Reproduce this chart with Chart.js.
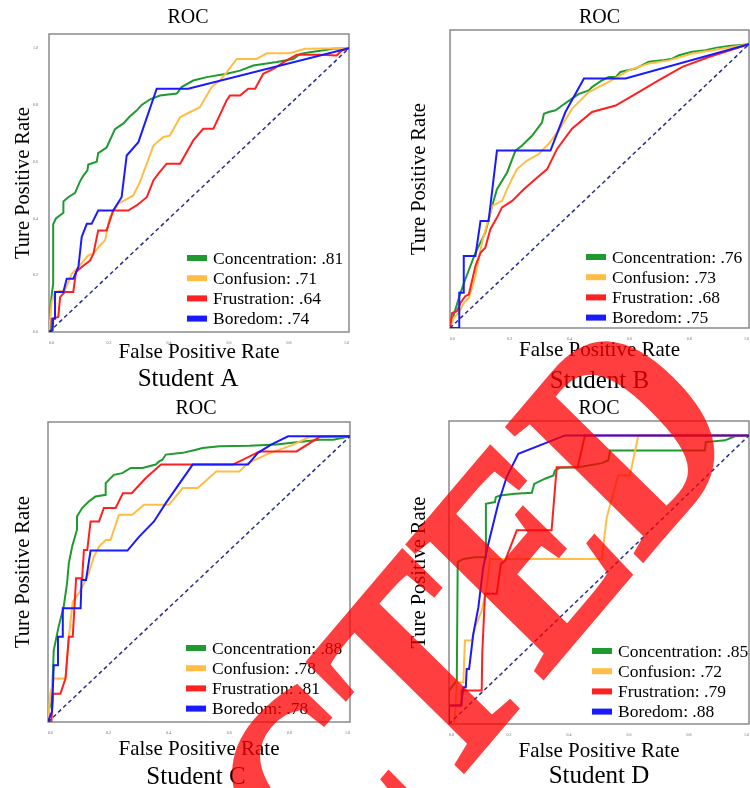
<!DOCTYPE html>
<html>
<head>
<meta charset="utf-8">
<title>ROC - Students A-D</title>
<script src="https://cdn.jsdelivr.net/npm/chart.js@4.4.0/dist/chart.umd.min.js"></script>
<style>
  html, body { margin: 0; padding: 0; background: #fff; overflow: hidden; }
  #wrap { position: relative; width: 750px; height: 788px; }
  #wrap canvas { position: absolute; }
  #stamp { left: 0; top: 0; pointer-events: none; opacity: 0.75; }
</style>
</head>
<body>
<div id="wrap">
  <canvas id="chartA" width="375" height="394" style="left:0;top:0"></canvas>
  <canvas id="chartB" width="375" height="394" style="left:375px;top:0"></canvas>
  <canvas id="chartC" width="375" height="394" style="left:0;top:394px"></canvas>
  <canvas id="chartD" width="375" height="394" style="left:375px;top:394px"></canvas>
  <canvas id="stamp" width="750" height="788"></canvas>
</div>
<script>
// Datos: categorías, AUC por estudiante y curvas ROC
const CATEGORIES = ['Concentration', 'Confusion', 'Frustration', 'Boredom'];
const COLORS = ['#1f9a2e', '#ffbd45', '#ff2020', '#1a1aff'];
const TICK_VALUES = [0, 0.2, 0.4, 0.6, 0.8, 1.0];
const CHANCE = [[0, 0], [1, 1]];

const AUC_A = ['.81', '.71', '.64', '.74'];
const AUC_B = ['.76', '.73', '.68', '.75'];
const AUC_C = ['.88', '.78', '.81', '.78'];
const AUC_D = ['.85', '.72', '.79', '.88'];

// Student A
const A_CONC = [[0,0],[0.003,0.04],[0.005,0.09],[0.01,0.14],[0.014,0.17],[0.014,0.38],[0.023,0.40],[0.048,0.42],[0.048,0.46],[0.064,0.475],[0.087,0.49],[0.103,0.53],[0.114,0.55],[0.128,0.57],[0.131,0.59],[0.159,0.60],[0.164,0.63],[0.192,0.65],[0.22,0.715],[0.248,0.735],[0.27,0.76],[0.292,0.78],[0.309,0.80],[0.337,0.82],[0.37,0.833],[0.426,0.84],[0.442,0.863],[0.481,0.886],[0.526,0.898],[0.592,0.91],[0.637,0.921],[0.681,0.939],[0.759,0.951],[0.814,0.962],[0.837,0.98],[0.87,0.986],[0.948,0.998],[1,1]];
const A_CONF = [[0,0],[0.009,0.106],[0.02,0.141],[0.053,0.147],[0.076,0.205],[0.098,0.229],[0.131,0.27],[0.148,0.276],[0.17,0.305],[0.187,0.323],[0.203,0.405],[0.231,0.452],[0.281,0.481],[0.303,0.528],[0.326,0.593],[0.348,0.657],[0.381,0.687],[0.403,0.692],[0.437,0.757],[0.459,0.769],[0.503,0.792],[0.542,0.863],[0.57,0.886],[0.592,0.915],[0.626,0.962],[0.692,0.962],[0.726,0.982],[0.803,0.982],[0.853,0.998],[1,1]];
const A_FRUS = [[0,0],[0.009,0.006],[0.009,0.047],[0.031,0.053],[0.037,0.123],[0.042,0.129],[0.053,0.141],[0.081,0.141],[0.09,0.211],[0.109,0.229],[0.137,0.252],[0.148,0.276],[0.164,0.358],[0.192,0.358],[0.214,0.428],[0.264,0.428],[0.292,0.446],[0.326,0.475],[0.348,0.534],[0.364,0.557],[0.392,0.593],[0.437,0.593],[0.481,0.675],[0.514,0.716],[0.548,0.716],[0.592,0.816],[0.603,0.833],[0.637,0.833],[0.664,0.857],[0.687,0.857],[0.714,0.91],[0.748,0.927],[0.792,0.957],[0.826,0.977],[0.903,0.977],[0.959,0.974],[0.976,0.992],[1,1]];
const A_BORE = [[0,0],[0.012,0.006],[0.014,0.047],[0.02,0.047],[0.02,0.141],[0.048,0.141],[0.059,0.188],[0.081,0.188],[0.098,0.229],[0.109,0.335],[0.126,0.381],[0.142,0.381],[0.164,0.428],[0.214,0.428],[0.242,0.475],[0.259,0.622],[0.298,0.669],[0.359,0.857],[0.464,0.857],[1,1]];

// Student B
const B_CONC = [[0,0],[0.018,0.065],[0.035,0.124],[0.051,0.171],[0.085,0.265],[0.118,0.336],[0.141,0.43],[0.157,0.489],[0.191,0.548],[0.219,0.625],[0.241,0.643],[0.275,0.678],[0.308,0.725],[0.314,0.755],[0.33,0.761],[0.353,0.767],[0.375,0.784],[0.408,0.808],[0.431,0.825],[0.464,0.837],[0.475,0.849],[0.509,0.873],[0.531,0.884],[0.554,0.884],[0.57,0.902],[0.621,0.914],[0.643,0.926],[0.665,0.938],[0.71,0.943],[0.743,0.949],[0.766,0.961],[0.81,0.973],[0.855,0.979],[0.888,0.987],[0.933,0.994],[1,1]];
const B_CONF = [[0,0],[0.012,0.035],[0.029,0.053],[0.046,0.088],[0.063,0.106],[0.085,0.183],[0.107,0.301],[0.141,0.43],[0.174,0.448],[0.196,0.501],[0.224,0.56],[0.258,0.59],[0.297,0.613],[0.33,0.649],[0.364,0.696],[0.408,0.772],[0.464,0.831],[0.531,0.867],[0.598,0.908],[0.665,0.932],[0.732,0.943],[0.81,0.967],[1,1]];
const B_FRUS = [[0,0],[0.007,0.053],[0.023,0.059],[0.035,0.088],[0.051,0.112],[0.063,0.118],[0.085,0.218],[0.102,0.265],[0.118,0.283],[0.135,0.348],[0.157,0.389],[0.174,0.425],[0.208,0.448],[0.247,0.489],[0.286,0.525],[0.325,0.56],[0.358,0.631],[0.408,0.702],[0.475,0.761],[0.554,0.784],[0.621,0.825],[0.699,0.873],[0.777,0.92],[0.866,0.955],[1,1]];
const B_BORE = [[0,0],[0.031,0],[0.031,0.124],[0.046,0.124],[0.046,0.254],[0.085,0.254],[0.102,0.377],[0.129,0.377],[0.157,0.625],[0.336,0.625],[0.386,0.761],[0.448,0.879],[0.587,0.879],[1,1]];

// Student C
const C_CONC = [[0,0],[0.004,0.047],[0.013,0.076],[0.019,0.251],[0.035,0.333],[0.052,0.404],[0.063,0.485],[0.069,0.556],[0.08,0.614],[0.096,0.673],[0.096,0.719],[0.113,0.749],[0.135,0.772],[0.157,0.789],[0.191,0.795],[0.191,0.836],[0.218,0.865],[0.246,0.871],[0.274,0.889],[0.313,0.889],[0.357,0.901],[0.368,0.912],[0.379,0.918],[0.39,0.936],[0.446,0.942],[0.49,0.953],[0.512,0.959],[0.568,0.965],[0.667,0.967],[0.756,0.971],[0.845,0.982],[0.9,0.988],[0.945,0.988],[1,1]];
const C_CONF = [[0,0],[0.008,0.099],[0.019,0.152],[0.058,0.152],[0.069,0.298],[0.082,0.421],[0.102,0.45],[0.119,0.485],[0.135,0.52],[0.152,0.579],[0.169,0.614],[0.191,0.637],[0.207,0.637],[0.235,0.725],[0.279,0.725],[0.318,0.76],[0.401,0.76],[0.446,0.819],[0.496,0.819],[0.557,0.877],[0.634,0.877],[0.662,0.906],[0.723,0.936],[0.812,0.971],[0.867,0.998],[1,1]];
const C_FRUS = [[0,0],[0.011,0],[0.017,0.099],[0.041,0.099],[0.058,0.152],[0.069,0.298],[0.082,0.298],[0.093,0.503],[0.113,0.503],[0.119,0.602],[0.13,0.602],[0.141,0.702],[0.169,0.702],[0.185,0.749],[0.224,0.749],[0.248,0.801],[0.277,0.801],[0.324,0.854],[0.374,0.901],[0.612,0.901],[0.634,0.912],[0.701,0.947],[0.823,0.947],[0.9,0.998],[1,1]];
const C_BORE = [[0,0],[0.008,0.023],[0.013,0.035],[0.019,0.199],[0.03,0.199],[0.033,0.298],[0.047,0.298],[0.049,0.398],[0.108,0.398],[0.111,0.497],[0.126,0.497],[0.141,0.6],[0.263,0.6],[0.302,0.649],[0.351,0.702],[0.39,0.766],[0.479,0.901],[0.662,0.901],[0.695,0.942],[0.739,0.971],[0.795,1],[1,1]];

// Student D
const D_CONC = [[0,0],[0,0.116],[0.026,0.15],[0.029,0.561],[0.048,0.572],[0.087,0.578],[0.12,0.578],[0.123,0.763],[0.153,0.769],[0.156,0.786],[0.17,0.792],[0.22,0.798],[0.276,0.801],[0.284,0.832],[0.32,0.85],[0.348,0.861],[0.353,0.879],[0.37,0.888],[0.431,0.89],[0.464,0.896],[0.509,0.904],[0.531,0.913],[0.537,0.948],[0.853,0.948],[0.856,0.977],[0.92,0.983],[0.953,0.997],[1,1]];
const D_CONF = [[0,0],[0.014,0],[0.02,0.029],[0.026,0.145],[0.048,0.145],[0.053,0.289],[0.076,0.289],[0.087,0.335],[0.109,0.393],[0.126,0.474],[0.137,0.572],[0.176,0.572],[0.509,0.572],[0.526,0.717],[0.564,0.861],[0.603,0.861],[0.631,1],[1,1]];
const D_FRUS = [[0,0],[0,0.064],[0.042,0.064],[0.042,0.116],[0.109,0.116],[0.111,0.249],[0.12,0.451],[0.159,0.451],[0.173,0.555],[0.187,0.566],[0.2,0.601],[0.226,0.671],[0.342,0.671],[0.359,0.89],[0.429,0.89],[0.453,1],[1,1]];
const D_BORE = [[0,0],[0,0.064],[0.04,0.064],[0.048,0.127],[0.056,0.127],[0.059,0.191],[0.067,0.191],[0.081,0.312],[0.098,0.405],[0.114,0.543],[0.131,0.624],[0.164,0.763],[0.192,0.855],[0.231,0.936],[0.387,1],[1,1]];

Chart.defaults.font.family = '"Liberation Serif", "Times New Roman", serif';
Chart.defaults.color = '#000';

// Marco gris alrededor del área de trazado
const framePlugin = {
  id: 'frame',
  beforeDatasetsDraw(chart) {
    const { ctx, chartArea: a } = chart;
    ctx.save();
    ctx.strokeStyle = '#8a8a8a';
    ctx.lineWidth = 1.5;
    ctx.strokeRect(a.left, a.top, a.right - a.left, a.bottom - a.top);
    ctx.restore();
  }
};

// Leyenda dentro del gráfico, abajo a la derecha
const insideLegend = {
  id: 'insideLegend',
  afterDatasetsDraw(chart, args, opts) {
    const { ctx, chartArea: a } = chart;
    ctx.save();
    ctx.font = '17.5px "Liberation Serif"';
    ctx.textBaseline = 'middle';
    opts.labels.forEach((text, i) => {
      const y = a.bottom + opts.y + i * opts.gap;
      ctx.fillStyle = COLORS[i];
      ctx.fillRect(a.left + opts.x, y - 3, 20, 6);
      ctx.fillStyle = '#000';
      ctx.fillText(text, a.left + opts.x + 26, y + 1);
    });
    ctx.restore();
  }
};

const toPoints = arr => arr.map(p => ({ x: p[0], y: p[1] }));

function createRocChart(cfg) {
  const ctx = document.getElementById(cfg.id).getContext('2d');

  const datasets = cfg.series.map((s, i) => ({
    label: CATEGORIES[i],
    data: toPoints(s),
    borderColor: COLORS[i],
    borderWidth: 2,
    pointRadius: 0,
    tension: 0,
    order: 4 - i
  }));
  datasets.push({
    label: 'chance',
    data: toPoints(CHANCE),
    borderColor: '#2b2b8c',
    borderWidth: 1.5,
    borderDash: [4, 3],
    pointRadius: 0,
    order: 0
  });

  new Chart(ctx, {
    type: 'line',
    data: { datasets },
    options: {
      responsive: false,
      animation: false,
      layout: { padding: cfg.pad },
      scales: {
        x: {
          type: 'linear', min: 0, max: 1,
          grid: { display: false },
          border: { display: false },
          afterBuildTicks: s => { s.ticks = TICK_VALUES.map(v => ({ value: v })); },
          ticks: { font: { size: 4 }, color: '#666', padding: 1, align: 'inner', maxRotation: 0,
                   callback: v => v.toFixed(1) },
          title: { display: true, text: 'False Positive Rate', font: { size: 21 },
                   padding: { top: 0, bottom: cfg.xTitlePad } },
          afterFit: s => { s.height = cfg.xHeight; }
        },
        y: {
          type: 'linear', min: 0, max: 1.05,
          grid: { display: false },
          border: { display: false },
          afterBuildTicks: s => { s.ticks = TICK_VALUES.map(v => ({ value: v })); },
          ticks: { font: { size: 4 }, color: '#666', padding: 3, callback: v => v.toFixed(1) },
          title: { display: true, text: 'Ture Positive Rate', font: { size: 20.5 },
                   padding: { top: cfg.yTitlePad, bottom: 0 } },
          afterFit: s => { s.width = cfg.yWidth; }
        }
      },
      plugins: {
        legend: { display: false },
        tooltip: { enabled: false },
        title: { display: true, text: 'ROC', font: { size: 20, weight: 'normal', lineHeight: 1.2 },
                 padding: cfg.titlePad },
        subtitle: { display: true, position: 'bottom', text: cfg.student,
                    font: { size: 25, lineHeight: 0.8 }, padding: { top: 0, bottom: cfg.subPad } },
        insideLegend: {
          labels: CATEGORIES.map((c, i) => c + ': ' + cfg.auc[i]),
          x: cfg.legendX, y: cfg.legendY, gap: 20.2
        }
      }
    },
    plugins: [framePlugin, insideLegend]
  });
}

createRocChart({ id: 'chartA', student: 'Student A', series: [A_CONC, A_CONF, A_FRUS, A_BORE], auc: AUC_A,
  pad: { left: 27, right: 26, top: 0, bottom: 0 }, yWidth: 22, yTitlePad: -15.3,
  titlePad: { top: 6, bottom: 4 }, xHeight: 37, xTitlePad: 4.4, subPad: 5, legendX: 138, legendY: -74 });

createRocChart({ id: 'chartB', student: 'Student B', series: [B_CONC, B_CONF, B_FRUS, B_BORE], auc: AUC_B,
  pad: { left: 74, right: 0, top: 0, bottom: 0 }, yWidth: 1, yTitlePad: -41.3,
  titlePad: { top: 6, bottom: 0 }, xHeight: 43, xTitlePad: 8.4, subPad: 3, legendX: 136, legendY: -71 });

createRocChart({ id: 'chartC', student: 'Student C', series: [C_CONC, C_CONF, C_FRUS, C_BORE], auc: AUC_C,
  pad: { left: 42, right: 25, top: 0, bottom: 0 }, yWidth: 6, yTitlePad: -30.3,
  titlePad: { top: 3, bottom: 1 }, xHeight: 45, xTitlePad: 5.4, subPad: 1, legendX: 138, legendY: -74 });

createRocChart({ id: 'chartD', student: 'Student D', series: [D_CONC, D_CONF, D_FRUS, D_BORE], auc: AUC_D,
  pad: { left: 73, right: 0, top: 0, bottom: 0 }, yWidth: 1, yTitlePad: -40.3,
  titlePad: { top: 3, bottom: 0 }, xHeight: 42, xTitlePad: 2.4, subPad: 2, legendX: 143, legendY: -73 });

// Sello rojo encima de la figura (la transparencia va en el CSS del canvas).
// Girado unos 48 grados, algo estrechado a lo ancho y alargado a lo alto.
const stamp = document.getElementById('stamp').getContext('2d');
stamp.setTransform(0.59, -0.695, 0.82, 0.807, 748, 437);
stamp.font = 'bold 253px "Liberation Serif"';
stamp.textAlign = 'right';
stamp.fillStyle = '#ff0000';
stamp.strokeStyle = '#ff0000';
stamp.lineWidth = 3;
stamp.fillText('RETRACTED', 0, 0);
stamp.strokeText('RETRACTED', 0, 0);
stamp.setTransform(1, 0, 0, 1, 0, 0);
</script>
</body>
</html>
